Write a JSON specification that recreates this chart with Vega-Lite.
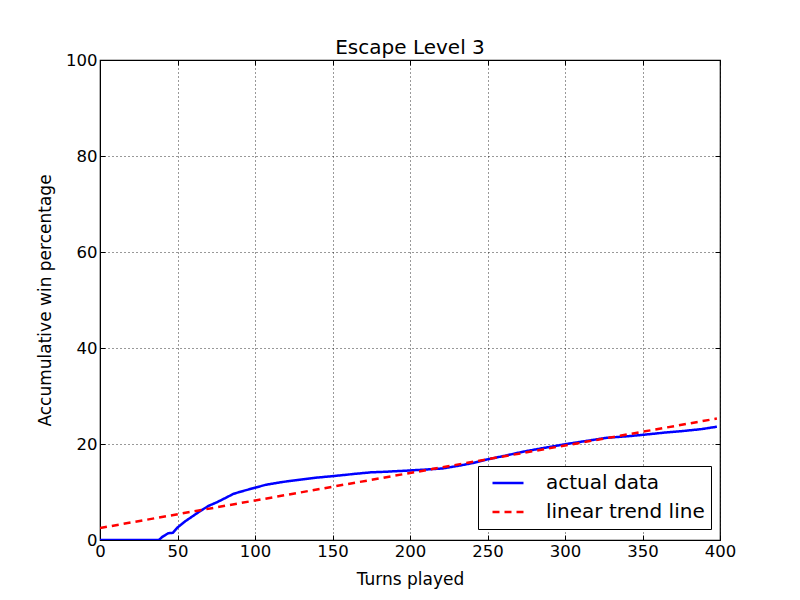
{
  "$schema": "https://vega.github.io/schema/vega-lite/v6.json",
  "autosize": "none",
  "width": 620,
  "height": 480,
  "padding": {"left": 100, "top": 60, "right": 80, "bottom": 60},
  "background": "white",
  "title": {"text": "Escape Level 3", "font": "DejaVu Sans", "fontSize": 20, "fontWeight": "normal", "color": "black", "offset": -6},
  "config": {
    "view": {"stroke": "black", "strokeWidth": 1.2},
    "axis": {"labelFont": "DejaVu Sans", "titleFont": "DejaVu Sans", "labelFontSize": 16.5, "titleFontSize": 17, "titleFontWeight": "normal", "labelColor": "black", "titleColor": "black", "tickColor": "black", "domainColor": "black", "gridColor": "black", "gridDash": [1, 3], "gridOpacity": 0.8, "tickSize": -5, "labelOverlap": false, "labelFlush": false}
  },
  "data": {"values": [
    {"t": 0, "v": 0, "s": "actual data"},
    {"t": 38, "v": 0, "s": "actual data"},
    {"t": 40, "v": 0.6, "s": "actual data"},
    {"t": 42, "v": 1.0, "s": "actual data"},
    {"t": 44, "v": 1.4, "s": "actual data"},
    {"t": 47, "v": 1.5, "s": "actual data"},
    {"t": 50, "v": 2.6, "s": "actual data"},
    {"t": 55, "v": 3.9, "s": "actual data"},
    {"t": 60, "v": 5.0, "s": "actual data"},
    {"t": 65, "v": 6.1, "s": "actual data"},
    {"t": 70, "v": 7.1, "s": "actual data"},
    {"t": 75, "v": 7.8, "s": "actual data"},
    {"t": 80, "v": 8.6, "s": "actual data"},
    {"t": 86, "v": 9.6, "s": "actual data"},
    {"t": 90, "v": 10.0, "s": "actual data"},
    {"t": 100, "v": 10.9, "s": "actual data"},
    {"t": 107, "v": 11.5, "s": "actual data"},
    {"t": 118, "v": 12.1, "s": "actual data"},
    {"t": 130, "v": 12.6, "s": "actual data"},
    {"t": 140, "v": 13.0, "s": "actual data"},
    {"t": 150, "v": 13.3, "s": "actual data"},
    {"t": 165, "v": 13.8, "s": "actual data"},
    {"t": 175, "v": 14.1, "s": "actual data"},
    {"t": 183, "v": 14.2, "s": "actual data"},
    {"t": 195, "v": 14.4, "s": "actual data"},
    {"t": 206, "v": 14.6, "s": "actual data"},
    {"t": 221, "v": 14.9, "s": "actual data"},
    {"t": 232, "v": 15.5, "s": "actual data"},
    {"t": 240, "v": 16.0, "s": "actual data"},
    {"t": 250, "v": 16.8, "s": "actual data"},
    {"t": 262, "v": 17.6, "s": "actual data"},
    {"t": 273, "v": 18.4, "s": "actual data"},
    {"t": 285, "v": 19.1, "s": "actual data"},
    {"t": 301, "v": 20.0, "s": "actual data"},
    {"t": 315, "v": 20.7, "s": "actual data"},
    {"t": 327, "v": 21.3, "s": "actual data"},
    {"t": 340, "v": 21.6, "s": "actual data"},
    {"t": 350, "v": 21.9, "s": "actual data"},
    {"t": 365, "v": 22.4, "s": "actual data"},
    {"t": 376, "v": 22.7, "s": "actual data"},
    {"t": 388, "v": 23.1, "s": "actual data"},
    {"t": 398, "v": 23.6, "s": "actual data"},
    {"t": 0, "v": 2.5, "s": "linear trend line"},
    {"t": 398, "v": 25.3, "s": "linear trend line"}
  ]},
  "layer": [
    {
      "mark": {"type": "line", "strokeWidth": 2.5, "clip": true},
      "encoding": {
        "x": {"field": "t", "type": "quantitative", "scale": {"domain": [0, 400], "nice": false, "zero": false}, "axis": {"title": "Turns played", "values": [0,50,100,150,200,250,300,350,400], "grid": true, "labelPadding": 8, "titlePadding": 12}},
        "y": {"field": "v", "type": "quantitative", "scale": {"domain": [0, 100], "nice": false, "zero": false}, "axis": {"title": "Accumulative win percentage", "values": [0,20,40,60,80,100], "grid": true, "labelPadding": 8, "titlePadding": 11}},
        "color": {"field": "s", "type": "nominal", "scale": {"domain": ["actual data", "linear trend line"], "range": ["#0000ff", "#ff0000"]},
          "legend": {"title": null, "orient": "none", "legendX": 378, "legendY": 406, "symbolType": "stroke", "symbolSize": 961, "symbolStrokeWidth": 2.5, "labelFont": "DejaVu Sans", "labelFontSize": 20, "labelColor": "black", "strokeColor": "black", "fillColor": "white", "padding": 6, "rowPadding": 7, "clipHeight": 22, "labelOffset": 21, "cornerRadius": 0, "symbolOffset": 7}},
        "strokeDash": {"field": "s", "type": "nominal", "scale": {"domain": ["actual data", "linear trend line"], "range": [[1, 0], [7, 5]]}, "legend": null}
      }
    },
    {
      "mark": {"type": "rule", "opacity": 0},
      "encoding": {
        "x": {"datum": 0, "type": "quantitative", "scale": {"domain": [0, 400], "nice": false, "zero": false}, "axis": {"orient": "top", "values": [0,50,100,150,200,250,300,350,400], "labels": false, "title": null, "domain": false, "grid": false}},
        "y": {"datum": 0, "type": "quantitative", "scale": {"domain": [0, 100], "nice": false, "zero": false}, "axis": {"orient": "right", "values": [0,20,40,60,80,100], "labels": false, "title": null, "domain": false, "grid": false}}
      }
    }
  ],
  "resolve": {"axis": {"x": "independent", "y": "independent"}}
}
